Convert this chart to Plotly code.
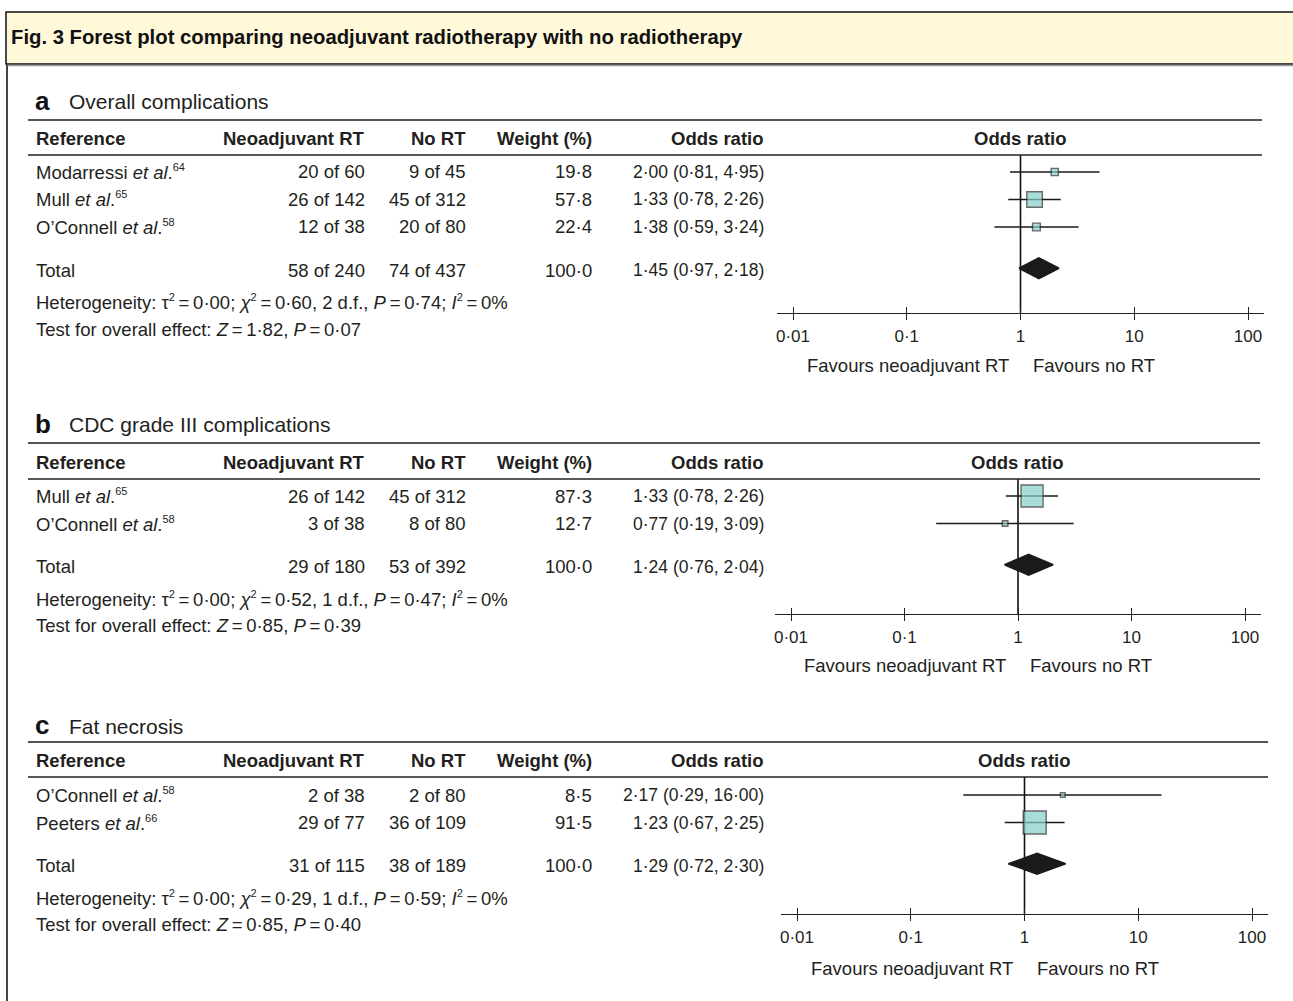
import math
import plotly.graph_objects as go

# ---------------- data ----------------
panel_letters = ["a", "b", "c"]
panel_titles = ["Overall complications", "CDC grade III complications", "Fat necrosis"]

a_studies = ["Modarressi", "Mull", "O\u2019Connell"]
a_refs = ["64", "65", "58"]
a_rt_events = [20, 26, 12]
a_rt_totals = [60, 142, 38]
a_no_events = [9, 45, 20]
a_no_totals = [45, 312, 80]
a_weights = [19.8, 57.8, 22.4]
a_or = [2.00, 1.33, 1.38]
a_lo = [0.81, 0.78, 0.59]
a_hi = [4.95, 2.26, 3.24]
a_total = [58, 240, 74, 437]
a_total_or = [1.45, 0.97, 2.18]
a_het = [0.00, 0.60, 2, 0.74, 0]   # tau2, chi2, df, P, I2
a_effect = [1.82, 0.07]            # Z, P

b_studies = ["Mull", "O\u2019Connell"]
b_refs = ["65", "58"]
b_rt_events = [26, 3]
b_rt_totals = [142, 38]
b_no_events = [45, 8]
b_no_totals = [312, 80]
b_weights = [87.3, 12.7]
b_or = [1.33, 0.77]
b_lo = [0.78, 0.19]
b_hi = [2.26, 3.09]
b_total = [29, 180, 53, 392]
b_total_or = [1.24, 0.76, 2.04]
b_het = [0.00, 0.52, 1, 0.47, 0]
b_effect = [0.85, 0.39]

c_studies = ["O\u2019Connell", "Peeters"]
c_refs = ["58", "66"]
c_rt_events = [2, 29]
c_rt_totals = [38, 77]
c_no_events = [2, 36]
c_no_totals = [80, 109]
c_weights = [8.5, 91.5]
c_or = [2.17, 1.23]
c_lo = [0.29, 0.67]
c_hi = [16.00, 2.25]
c_total = [31, 115, 38, 189]
c_total_or = [1.29, 0.72, 2.30]
c_het = [0.00, 0.29, 1, 0.59, 0]
c_effect = [0.85, 0.40]

tick_vals = [0.01, 0.1, 1, 10, 100]
tick_text = ["0\u00b701", "0\u00b71", "1", "10", "100"]

panels = [
    dict(studies=a_studies, refs=a_refs, rte=a_rt_events, rtn=a_rt_totals, noe=a_no_events, non=a_no_totals,
         w=a_weights, orr=a_or, lo=a_lo, hi=a_hi, tot=a_total, tor=a_total_or, het=a_het, eff=a_effect),
    dict(studies=b_studies, refs=b_refs, rte=b_rt_events, rtn=b_rt_totals, noe=b_no_events, non=b_no_totals,
         w=b_weights, orr=b_or, lo=b_lo, hi=b_hi, tot=b_total, tor=b_total_or, het=b_het, eff=b_effect),
    dict(studies=c_studies, refs=c_refs, rte=c_rt_events, rtn=c_rt_totals, noe=c_no_events, non=c_no_totals,
         w=c_weights, orr=c_or, lo=c_lo, hi=c_hi, tot=c_total, tor=c_total_or, het=c_het, eff=c_effect),
]

# ---------------- layout geometry (pixels) ----------------
W, H = 1293, 1001
geo = [
    dict(label=101, line1=120, hdr=138, line2=155, row0=172, axis=313, fav=365, x001=793, dec=113.75, right=1262),
    dict(label=424, line1=443, hdr=462, line2=479, row0=496, axis=614, fav=665, x001=791, dec=113.5, right=1260),
    dict(label=725, line1=742, hdr=760, line2=777, row0=795, axis=914, fav=968, x001=797, dec=113.75, right=1268),
]
ROW = 27.5
EXT = 16
FONT = "Liberation Sans, Arial, Helvetica, sans-serif"
TXT = "#231f20"
FS = 18.5
FS_OR = 17.5
FS_HDR = 18.5
FS_TICK = 17
BOX_FILL = "#86cfcb"

def px(x):
    return x / W

def py(y):
    return 1 - y / H

def fmt(v, d=2):
    return f"{v:.{d}f}".replace(".", "\u00b7")

EQ = "\u2009=\u2009"

def sup(s):
    return f"<sup><span style='font-size:11px'>{s}</span></sup>"

fig = go.Figure()
annotations = []
shapes = []

def ann(text, x, y, xanchor="left", size=FS, xref="paper", yref="paper", color=TXT, xshift=0):
    annotations.append(dict(text=text, x=x, y=y, xref=xref, yref=yref, xanchor=xanchor, yanchor="middle",
                            xshift=xshift, showarrow=False, font=dict(family=FONT, size=size, color=color),
                            borderpad=0))

# frame and header box
shapes.append(dict(type="rect", xref="paper", yref="paper", x0=px(6), x1=px(1310), y0=py(64), y1=py(12),
                   fillcolor="#fff9da", line=dict(color="#111", width=1.5), layer="below"))
shapes.append(dict(type="line", xref="paper", yref="paper", x0=px(6), x1=px(1310), y0=py(65.5), y1=py(65.5),
                   line=dict(color="#999", width=1.5)))
shapes.append(dict(type="line", xref="paper", yref="paper", x0=px(7), x1=px(7), y0=py(64), y1=py(1010),
                   line=dict(color="#444", width=2)))
ann("<b>Fig. 3 Forest plot comparing neoadjuvant radiotherapy with no radiotherapy</b>", px(10), py(37),
    size=20.3, color="#111")

layout_axes = {}
for k, (p, g) in enumerate(zip(panels, geo)):
    n = len(p["studies"])
    xs = "x" if k == 0 else f"x{k + 1}"
    ys = "y" if k == 0 else f"y{k + 1}"
    xname = "xaxis" if k == 0 else f"xaxis{k + 1}"
    yname = "yaxis" if k == 0 else f"yaxis{k + 1}"
    ovx = f"x{k + 4}"
    ovname = f"xaxis{k + 4}"

    rows_px = [g["row0"] + i * ROW for i in range(n)]
    tot_px = g["row0"] + (n + 0.5) * ROW
    het_px = tot_px + 34
    test_px = het_px + 27

    # panel heading
    ann(f"<b>{panel_letters[k]}</b>", px(34), py(g["label"]), size=26, color="#111")
    ann(panel_titles[k], px(68), py(g["label"] + 1), size=21)
    for ly, lw, lc in [(g["line1"], 1.8, "#555"), (g["line2"], 1.3, "#222")]:
        shapes.append(dict(type="line", xref="paper", yref="paper", x0=px(28), x1=px(g["right"]),
                           y0=py(ly), y1=py(ly), line=dict(color=lc, width=lw)))

    # table header
    ann("<b>Reference</b>", px(35), py(g["hdr"]), size=FS_HDR)
    ann("<b>Neoadjuvant RT</b>", px(366), py(g["hdr"]), "right", size=FS_HDR)
    ann("<b>No RT</b>", px(467), py(g["hdr"]), "right", size=FS_HDR)
    ann("<b>Weight (%)</b>", px(593), py(g["hdr"]), "right", size=FS_HDR)
    ann("<b>Odds ratio</b>", px(765), py(g["hdr"]), "right", size=FS_HDR)
    ann("<b>Odds ratio</b>", 0, py(g["hdr"]), "center", xref=xs, size=FS_HDR)

    # study rows
    for i in range(n):
        y = py(rows_px[i])
        ann(f"{p['studies'][i]} <i>et al</i>.{sup(p['refs'][i])}", px(35), y)
        ann(f"{p['rte'][i]} of {p['rtn'][i]}", px(366), y, "right")
        ann(f"{p['noe'][i]} of {p['non'][i]}", px(467), y, "right")
        ann(fmt(p['w'][i], 1), px(593), y, "right")
        ann(f"{fmt(p['orr'][i])} ({fmt(p['lo'][i])}, {fmt(p['hi'][i])})", px(765), y, "right", size=FS_OR)

    # total row
    y = py(tot_px + 2)
    t = p["tot"]
    ann("Total", px(35), y)
    ann(f"{t[0]} of {t[1]}", px(366), y, "right")
    ann(f"{t[2]} of {t[3]}", px(467), y, "right")
    ann(fmt(sum(p["w"]), 1), px(593), y, "right")
    ann(f"{fmt(p['tor'][0])} ({fmt(p['tor'][1])}, {fmt(p['tor'][2])})", px(765), y, "right", size=FS_OR)

    h = p["het"]
    ann(f"Heterogeneity: \u03c4{sup(2)}{EQ}{fmt(h[0])}; <i>\u03c7</i>{sup(2)}{EQ}{fmt(h[1])}, {h[2]} d.f., "
        f"<i>P</i>{EQ}{fmt(h[3])}; <i>I</i>{sup(2)}{EQ}{h[4]}%", px(35), py(het_px))
    e = p["eff"]
    ann(f"Test for overall effect: <i>Z</i>{EQ}{fmt(e[0])}, <i>P</i>{EQ}{fmt(e[1])}", px(35), py(test_px))

    # favours labels
    ann("Favours neoadjuvant RT", 0, py(g["fav"]), "right", xref=xs, xshift=-11)
    ann("Favours no RT", 0, py(g["fav"]), "left", xref=xs, xshift=11)

    # axes
    v_bot = (g["axis"] - g["row0"]) / ROW
    v_top = (g["line2"] - g["row0"]) / ROW
    ext = EXT / g["dec"]
    xr = [-2 - ext, 2 + ext]
    dom = [px(g["x001"] - EXT), px(g["x001"] + 4 * g["dec"] + EXT)]
    common = dict(type="log", range=xr, tickvals=tick_vals, showgrid=False, zeroline=False, fixedrange=True,
                  tickwidth=1.3, tickcolor="#222", ticklen=6)
    layout_axes[xname] = dict(common, domain=dom, anchor=ys, showline=True, linecolor="#222", linewidth=1.3,
                              ticks="outside", ticktext=tick_text, ticklabelstandoff=1,
                              tickfont=dict(family=FONT, size=FS_TICK, color=TXT))
    layout_axes[ovname] = dict(common, overlaying=xs, anchor=ys, ticks="inside", showticklabels=False,
                               showline=False)
    layout_axes[yname] = dict(domain=[py(g["axis"]), py(g["line2"])], range=[v_bot, v_top], visible=False,
                              fixedrange=True)

    # line of no effect
    fig.add_trace(go.Scatter(x=[1, 1], y=[v_top, v_bot], mode="lines", line=dict(color="#111", width=1.6),
                             xaxis=xs, yaxis=ys, hoverinfo="skip", showlegend=False))
    # confidence intervals
    cx, cy = [], []
    for i in range(n):
        cx += [p["lo"][i], p["hi"][i], None]
        cy += [i, i, None]
    fig.add_trace(go.Scatter(x=cx, y=cy, mode="lines", line=dict(color="#1a1a1a", width=1.5),
                             xaxis=xs, yaxis=ys, hoverinfo="skip", showlegend=False))
    # weighted boxes
    fig.add_trace(go.Scatter(x=p["orr"], y=list(range(n)), mode="markers",
                             marker=dict(symbol="square", size=[2.8 + 0.22 * w for w in p["w"]],
                                         color=BOX_FILL, line=dict(color="#2a2a2a", width=1.4)),
                             xaxis=xs, yaxis=ys, hoverinfo="skip", showlegend=False))
    # pooled diamond
    tr = n + 0.5
    dh = 10.5 / ROW
    tor = p["tor"]
    fig.add_trace(go.Scatter(x=[tor[1], tor[0], tor[2], tor[0], tor[1]], y=[tr, tr - dh, tr, tr + dh, tr],
                             mode="lines", fill="toself", fillcolor="#1a1a1a", line=dict(color="#1a1a1a", width=1.5),
                             xaxis=xs, yaxis=ys, hoverinfo="skip", showlegend=False))
    # invisible trace so the overlay tick axis is drawn
    fig.add_trace(go.Scatter(x=[1], y=[v_bot], mode="markers", marker=dict(opacity=0), xaxis=ovx, yaxis=ys,
                             hoverinfo="skip", showlegend=False))

fig.update_layout(width=W, height=H, margin=dict(l=0, r=0, t=0, b=0), paper_bgcolor="white",
                  plot_bgcolor="rgba(0,0,0,0)", showlegend=False, annotations=annotations, shapes=shapes,
                  **layout_axes)
fig.write_html("out.html", config={"displayModeBar": False},
               post_script="document.body.style.margin='0';document.body.style.padding='0';"
                           "document.body.style.overflow='hidden';")
